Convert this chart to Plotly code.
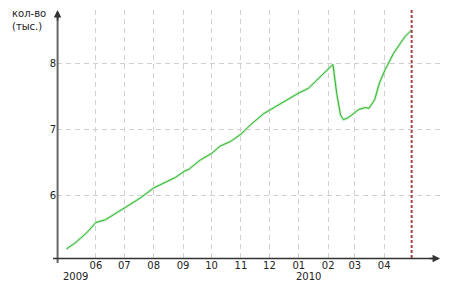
import plotly.graph_objects as go

# ---- data ----
dates = ["2009-05-01", "2009-05-10", "2009-05-22", "2009-06-01", "2009-06-11", "2009-06-20",
         "2009-06-30", "2009-07-18", "2009-08-01", "2009-08-08", "2009-08-24", "2009-09-02",
         "2009-09-07", "2009-09-19", "2009-10-01", "2009-10-10", "2009-10-21", "2009-11-01",
         "2009-11-11", "2009-11-25", "2009-12-01", "2009-12-13", "2009-12-25", "2010-01-01",
         "2010-01-11", "2010-01-20", "2010-01-31", "2010-02-06", "2010-02-10", "2010-02-14",
         "2010-02-17", "2010-02-21", "2010-02-26", "2010-03-05", "2010-03-12", "2010-03-16",
         "2010-03-22", "2010-03-27", "2010-04-02", "2010-04-11", "2010-04-23", "2010-04-30"]
values = [5.20, 5.29, 5.44, 5.60, 5.64, 5.72,
          5.82, 5.97, 6.12, 6.17, 6.28, 6.37,
          6.40, 6.54, 6.64, 6.75, 6.82, 6.93,
          7.07, 7.24, 7.29, 7.39, 7.50, 7.55,
          7.62, 7.74, 7.89, 7.98, 7.54, 7.22,
          7.15, 7.17, 7.22, 7.30, 7.33, 7.32,
          7.45, 7.70, 7.90, 8.15, 8.40, 8.50]

month_ticks = ["2009-06-01", "2009-07-01", "2009-08-01", "2009-09-01", "2009-10-01", "2009-11-01",
               "2009-12-01", "2010-01-01", "2010-02-01", "2010-03-01", "2010-04-01"]
month_labels = ["06", "07", "08", "09", "10", "11", "12", "01", "02", "03", "04"]
year_positions = ["2009-05-01", "2010-01-01"]
year_labels = ["2009", "2010"]
y_ticks = [6, 7, 8]
y_labels = ["6", "7", "8"]
marker_date = "2010-04-30"
y_title = "кол-во<br>(тыс.)"

FONT = "DejaVu Sans"

fig = go.Figure()
# light halo
fig.add_trace(go.Scatter(x=dates, y=values, mode="lines",
                         line=dict(color="rgba(170,230,170,0.7)", width=2.6),
                         hoverinfo="skip", showlegend=False))
fig.add_trace(go.Scatter(x=dates, y=values, mode="lines",
                         line=dict(color="#30b530", width=1.0),
                         showlegend=False))

shapes = [
    # red dashed marker
    dict(type="line", xref="x", yref="paper", x0=marker_date, x1=marker_date, y0=0, y1=1,
         line=dict(color="#a84444", width=2, dash="3px,2px")),
    # y axis line
    dict(type="line", xref="paper", yref="paper", x0=0.0015, x1=0.0015, y0=-5 / 248, y1=0.99,
         line=dict(color="#666666", width=2)),
    # x axis line
    dict(type="line", xref="paper", yref="paper", x0=-4 / 385, x1=0.99, y0=-0.002, y1=-0.002,
         line=dict(color="#333333", width=1.5)),
]

annotations = [
    dict(x=0.0015, y=1.0, xref="paper", yref="paper", showarrow=True, ax=0, ay=12,
         arrowhead=2, arrowsize=1, arrowwidth=1.5, arrowcolor="#333333", text=""),
    dict(x=0.995, y=-0.002, xref="paper", yref="paper", showarrow=True, ax=-12, ay=0,
         arrowhead=2, arrowsize=1, arrowwidth=1.5, arrowcolor="#333333", text=""),
    dict(x=0, y=1, xref="paper", yref="paper", xanchor="left", yanchor="top",
         xshift=-47, yshift=4, align="left", showarrow=False, text=y_title,
         font=dict(family=FONT, size=10, color="#222222")),
]
for pos, lab in zip(year_positions, year_labels):
    annotations.append(dict(x=pos, y=0, xref="x", yref="paper", xanchor="left", yanchor="middle",
                            xshift=-5, yshift=-18.5, showarrow=False, text=lab,
                            font=dict(family=FONT, size=10, color="#222222")))

fig.update_layout(
    width=450, height=287,
    margin=dict(l=57, r=8, t=10, b=29),
    plot_bgcolor="white", paper_bgcolor="white",
    font=dict(family=FONT, size=10, color="#222222"),
    shapes=shapes, annotations=annotations,
    xaxis=dict(type="date", range=["2009-04-21", "2010-06-01"],
               tickmode="array", tickvals=month_ticks, ticktext=month_labels,
               showgrid=True, gridcolor="#d0d0d0", gridwidth=1, griddash="5px,4px",
               showline=False, zeroline=False, ticks="",
               tickfont=dict(family=FONT, size=10, color="#222222")),
    yaxis=dict(range=[5.065, 8.80], tickmode="array", tickvals=y_ticks, ticktext=y_labels,
               showgrid=True, gridcolor="#d0d0d0", gridwidth=1, griddash="5px,4px",
               showline=False, zeroline=False, ticks="",
               tickfont=dict(family=FONT, size=10, color="#222222")),
)

fig.write_html("out.html")
